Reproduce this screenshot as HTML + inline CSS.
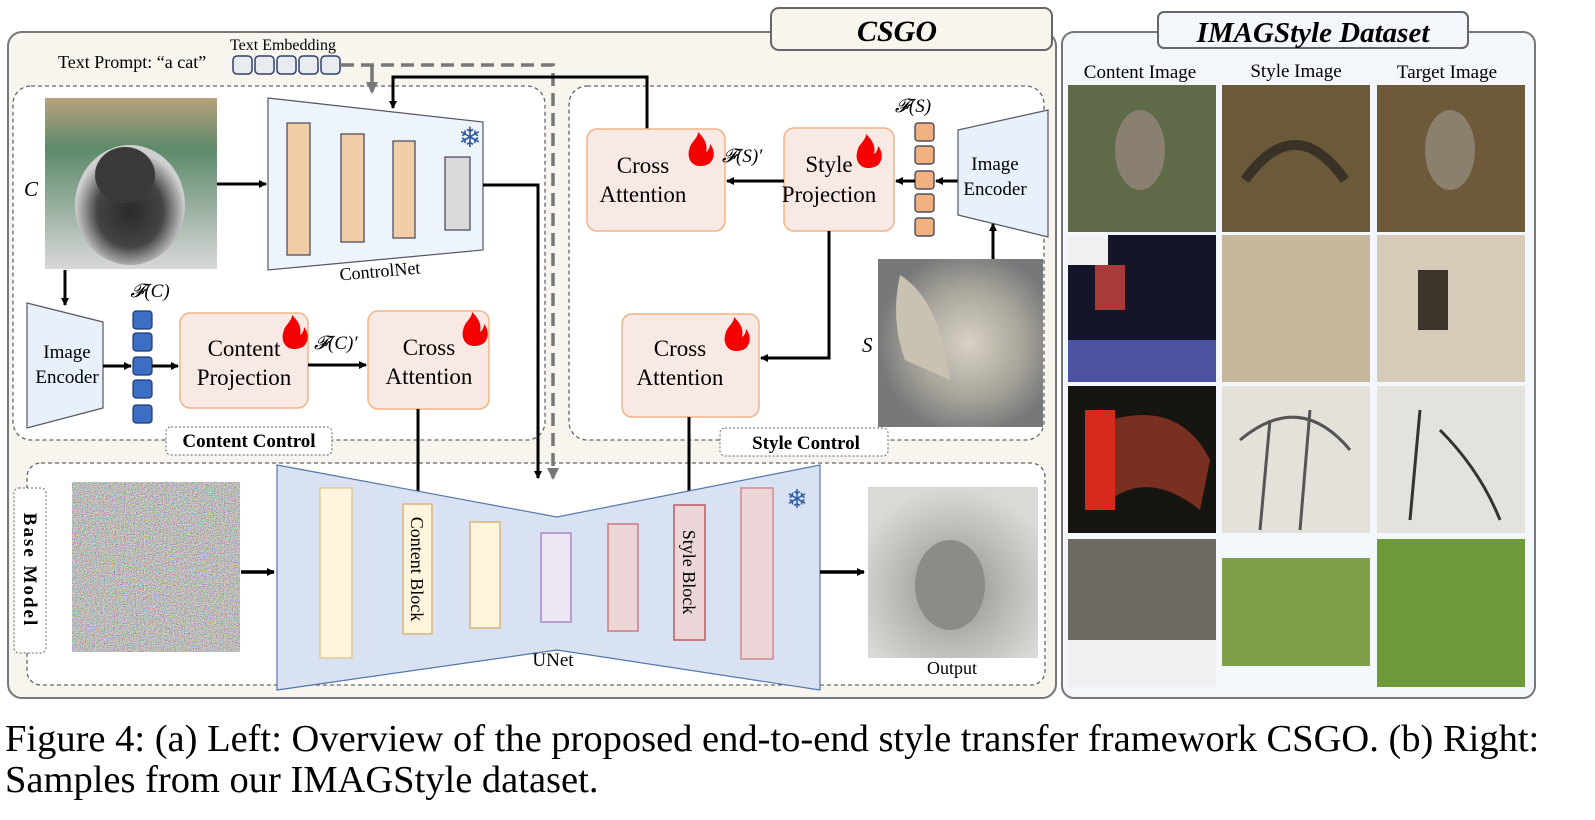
<!DOCTYPE html>
<html><head><meta charset="utf-8"><style>
html,body{margin:0;padding:0;background:#fff}
svg{display:block}
text{font-family:"Liberation Serif",serif}
</style></head><body>
<svg width="1595" height="820" viewBox="0 0 1595 820" xmlns="http://www.w3.org/2000/svg">
<defs>
<marker id="ah" markerWidth="8" markerHeight="8" refX="7" refY="4" orient="auto" markerUnits="userSpaceOnUse"><path d="M0,0 L8,4 L0,8 z" fill="#000"/></marker>
<marker id="ahg" markerWidth="12" markerHeight="12" refX="10" refY="6" orient="auto" markerUnits="userSpaceOnUse"><path d="M0,0 L12,6 L0,12 z" fill="#777"/></marker>
<filter id="noise" x="0" y="0" width="100%" height="100%"><feTurbulence type="fractalNoise" baseFrequency="0.9" numOctaves="2" seed="3"/><feColorMatrix type="matrix" values="1.6 0 0 0 -0.25  0 1.6 0 0 -0.25  0 0 1.6 0 -0.25  0 0 0 0 1"/></filter>
<radialGradient id="cat" cx="0.5" cy="0.55" r="0.5"><stop offset="0" stop-color="#2a2a2a"/><stop offset="0.6" stop-color="#444"/><stop offset="1" stop-color="#cfcfcf"/></radialGradient>
<linearGradient id="catbg" x1="0" y1="0" x2="0" y2="1"><stop offset="0" stop-color="#b8a27c"/><stop offset="0.3" stop-color="#5d8a6b"/><stop offset="1" stop-color="#d8d8d8"/></linearGradient>
<radialGradient id="angel" cx="0.55" cy="0.5" r="0.55"><stop offset="0" stop-color="#d8d2c4"/><stop offset="0.6" stop-color="#a8a49b"/><stop offset="1" stop-color="#77787a"/></radialGradient>
<radialGradient id="outc" cx="0.5" cy="0.6" r="0.6"><stop offset="0" stop-color="#8e8e8c"/><stop offset="0.5" stop-color="#b7b6b2"/><stop offset="1" stop-color="#dad9d6"/></radialGradient>
<path id="flame" d="M10,34 c-9,0 -14,-9 -10,-19 c2,-6 8,-9 8,-15 c6,6 10,12 8,20 c3,-2 4,-5 4,-8 c5,6 5,14 0,19 c-3,2 -6,3 -10,3z" fill="#f40000"/>
</defs>

<rect x="8" y="32" width="1048" height="666" rx="14" fill="#f7f5ee" stroke="#777" stroke-width="2"/>
<rect x="771" y="8" width="281" height="42" rx="8" fill="#f7f5ee" stroke="#666" stroke-width="2"/>
<text x="897" y="41" font-size="30" font-weight="bold" font-style="italic" text-anchor="middle">CSGO</text>

<rect x="1062" y="32" width="473" height="666" rx="12" fill="#f3f6fa" stroke="#777" stroke-width="2"/>
<rect x="1158" y="12" width="310" height="36" rx="6" fill="#f3f6fa" stroke="#666" stroke-width="2"/>
<text x="1313" y="42" font-size="29" font-weight="bold" font-style="italic" text-anchor="middle">IMAGStyle Dataset</text>
<text x="1140" y="78" font-size="19" text-anchor="middle">Content Image</text>
<text x="1296" y="77" font-size="19" text-anchor="middle">Style Image</text>
<text x="1447" y="78" font-size="19" text-anchor="middle">Target Image</text>
<rect x="1068" y="85" width="148" height="147" fill="#5f6a48"/>
<ellipse cx="1140" cy="150" rx="25" ry="40" fill="#8a8070"/>
<rect x="1222" y="85" width="148" height="147" fill="#6b5a3a"/>
<path d="M1245 180 Q1295 110 1345 180" stroke="#3a3226" stroke-width="10" fill="none"/>
<rect x="1377" y="85" width="148" height="147" fill="#6e5a3a"/>
<ellipse cx="1450" cy="150" rx="25" ry="40" fill="#8b7f6d"/>
<rect x="1068" y="235" width="148" height="147" fill="#15152a"/>
<rect x="1068" y="340" width="148" height="42" fill="#4b53a0"/>
<rect x="1095" y="265" width="30" height="45" fill="#a83a3a"/>
<rect x="1068" y="235" width="40" height="30" fill="#f0f0f0"/>
<rect x="1222" y="235" width="148" height="147" fill="#c7b79d"/>
<rect x="1377" y="235" width="148" height="147" fill="#d6cbb8"/>
<rect x="1418" y="270" width="30" height="60" fill="#3d342a"/>
<rect x="1068" y="386" width="148" height="147" fill="#171512"/>
<path d="M1110 420 Q1180 400 1210 460 L1200 510 Q1150 470 1110 500 z" fill="#7a3020"/>
<rect x="1085" y="410" width="30" height="100" fill="#d7291c"/>
<rect x="1222" y="386" width="148" height="147" fill="#e4e1da"/>
<path d="M1260 530 L1270 420 M1300 530 L1310 410 M1240 440 Q1300 390 1350 450" stroke="#555" stroke-width="3" fill="none"/>
<rect x="1377" y="386" width="148" height="147" fill="#e4e2dd"/>
<path d="M1420 410 L1410 520 M1440 430 Q1480 470 1500 520" stroke="#333" stroke-width="3" fill="none"/>
<rect x="1068" y="539" width="148" height="148" fill="#6d6a62"/>
<rect x="1068" y="640" width="148" height="47" fill="#eef0f2"/>
<rect x="1222" y="558" width="148" height="108" fill="#7fa048"/>
<rect x="1377" y="539" width="148" height="148" fill="#6f9a3a"/>

<rect x="13" y="86" width="532" height="354" rx="18" fill="#fff" stroke="#666" stroke-width="1.3" stroke-dasharray="4,3"/>
<rect x="569" y="86" width="475" height="354" rx="18" fill="#fff" stroke="#666" stroke-width="1.3" stroke-dasharray="4,3"/>
<rect x="27" y="463" width="1018" height="222" rx="14" fill="#fff" stroke="#666" stroke-width="1.3" stroke-dasharray="4,3"/>

<rect x="166" y="427" width="166" height="28" rx="5" fill="#fff" stroke="#666" stroke-dasharray="2,2"/>
<text x="249" y="447" font-size="19" font-weight="bold" text-anchor="middle">Content  Control</text>
<rect x="720" y="428" width="168" height="28" rx="5" fill="#fff" stroke="#666" stroke-dasharray="2,2"/>
<text x="806" y="449" font-size="19" font-weight="bold" text-anchor="middle">Style Control</text>
<rect x="14" y="488" width="32" height="165" rx="5" fill="#fff" stroke="#666" stroke-dasharray="2,2"/>
<text transform="translate(24,570) rotate(90)" font-size="19" font-weight="bold" text-anchor="middle" letter-spacing="2">Base Model</text>

<text x="58" y="68" font-size="18">Text Prompt: “a cat”</text>
<text x="230" y="50" font-size="16">Text Embedding</text>
<g fill="#e8ebf0" stroke="#2f3f6a" stroke-width="1.5">
<rect x="233" y="56" width="19" height="18" rx="4"/><rect x="255" y="56" width="19" height="18" rx="4"/><rect x="277" y="56" width="19" height="18" rx="4"/><rect x="299" y="56" width="19" height="18" rx="4"/><rect x="321" y="56" width="19" height="18" rx="4"/>
</g>
<path d="M341 65 H553 V478" stroke="#777" stroke-width="3.5" fill="none" stroke-dasharray="13,7" marker-end="url(#ahg)"/>
<path d="M372 65 V92" stroke="#777" stroke-width="3.5" fill="none" marker-end="url(#ahg)"/>

<rect x="45" y="98" width="172" height="171" fill="url(#catbg)"/>
<ellipse cx="130" cy="205" rx="55" ry="60" fill="url(#cat)"/>
<ellipse cx="125" cy="175" rx="30" ry="28" fill="#3a3a3a"/>
<text x="24" y="196" font-size="21" font-style="italic">C</text>

<polygon points="268,98 483,122 483,250 268,270" fill="#eef4fb" stroke="#556" stroke-width="1.2"/>
<g stroke="#445" stroke-width="1.2">
<rect x="287" y="123" width="23" height="132" fill="#f2cea8"/>
<rect x="341" y="134" width="23" height="108" fill="#f2cea8"/>
<rect x="393" y="141" width="22" height="97" fill="#f2cea8"/>
<rect x="445" y="157" width="25" height="73" fill="#d9d9d9"/>
</g>
<text x="470" y="147" font-size="28" fill="#2d5aa0" text-anchor="middle" font-family="DejaVu Sans">❄</text>
<text x="380" y="277" font-size="18" text-anchor="middle" transform="rotate(-5 380 272)">ControlNet</text>
<line x1="217" y1="184" x2="266" y2="184" stroke="#000" stroke-width="3" marker-end="url(#ah)"/>
<path d="M483 185 H538 V478" stroke="#000" stroke-width="3" fill="none" marker-end="url(#ah)"/>
<path d="M647 129 V77 H393 V108" stroke="#000" stroke-width="3" fill="none" marker-end="url(#ah)"/>

<line x1="65" y1="270" x2="65" y2="305" stroke="#000" stroke-width="3" marker-end="url(#ah)"/>
<polygon points="27,303 103,322 103,408 27,428" fill="#e8f0fa" stroke="#556" stroke-width="1.2"/>
<text x="67" y="358" font-size="19" text-anchor="middle">Image</text>
<text x="67" y="383" font-size="19" text-anchor="middle">Encoder</text>
<text x="150" y="297" font-size="19" font-style="italic" text-anchor="middle">𝓕(C)</text>
<g fill="#3c6ec4" stroke="#1f3a70" stroke-width="1.2">
<rect x="133" y="311" width="19" height="18" rx="3"/><rect x="133" y="333" width="19" height="18" rx="3"/><rect x="133" y="357" width="19" height="18" rx="3"/><rect x="133" y="380" width="19" height="18" rx="3"/><rect x="133" y="405" width="19" height="18" rx="3"/>
</g>
<line x1="103" y1="366" x2="131" y2="366" stroke="#000" stroke-width="3" marker-end="url(#ah)"/>
<line x1="152" y1="366" x2="178" y2="366" stroke="#000" stroke-width="3" marker-end="url(#ah)"/>
<rect x="180" y="313" width="128" height="95" rx="10" fill="#f8e9e4" stroke="#f0b486" stroke-width="1.5"/>
<text x="244" y="356" font-size="23" text-anchor="middle">Content</text>
<text x="244" y="385" font-size="23" text-anchor="middle">Projection</text>
<rect x="368" y="311" width="121" height="98" rx="10" fill="#f8e9e4" stroke="#f0b486" stroke-width="1.5"/>
<text x="429" y="355" font-size="23" text-anchor="middle">Cross</text>
<text x="429" y="384" font-size="23" text-anchor="middle">Attention</text>
<line x1="308" y1="365" x2="366" y2="365" stroke="#000" stroke-width="3" marker-end="url(#ah)"/>
<text x="314" y="349" font-size="19" font-style="italic">𝓕(C)′</text>
<line x1="418" y1="409" x2="418" y2="503" stroke="#000" stroke-width="3" marker-end="url(#ah)"/>

<rect x="587" y="129" width="138" height="102" rx="10" fill="#f8e9e4" stroke="#f0b486" stroke-width="1.5"/>
<text x="643" y="173" font-size="23" text-anchor="middle">Cross</text>
<text x="643" y="202" font-size="23" text-anchor="middle">Attention</text>
<rect x="784" y="128" width="110" height="103" rx="10" fill="#f8e9e4" stroke="#f0b486" stroke-width="1.5"/>
<text x="829" y="172" font-size="23" text-anchor="middle">Style</text>
<text x="829" y="202" font-size="23" text-anchor="middle">Projection</text>
<line x1="784" y1="181" x2="727" y2="181" stroke="#000" stroke-width="3" marker-end="url(#ah)"/>
<text x="722" y="162" font-size="19" font-style="italic">𝓕(S)′</text>
<text x="913" y="112" font-size="19" font-style="italic" text-anchor="middle">𝓕(S)</text>
<g fill="#f0b080" stroke="#2a3550" stroke-width="1.2">
<rect x="915" y="123" width="19" height="18" rx="3"/><rect x="915" y="146" width="19" height="18" rx="3"/><rect x="915" y="171" width="19" height="18" rx="3"/><rect x="915" y="194" width="19" height="18" rx="3"/><rect x="915" y="218" width="19" height="18" rx="3"/>
</g>
<line x1="958" y1="181" x2="936" y2="181" stroke="#000" stroke-width="3" marker-end="url(#ah)"/>
<line x1="915" y1="181" x2="896" y2="181" stroke="#000" stroke-width="3" marker-end="url(#ah)"/>
<polygon points="958,130 1048,110 1048,237 958,215" fill="#e8f0fa" stroke="#556" stroke-width="1.2"/>
<text x="995" y="170" font-size="19" text-anchor="middle">Image</text>
<text x="995" y="195" font-size="19" text-anchor="middle">Encoder</text>
<rect x="878" y="259" width="165" height="168" fill="url(#angel)"/>
<path d="M900 275 Q940 300 950 380 L905 360 Q890 320 900 275z" fill="#c9c2b2"/>
<text x="862" y="352" font-size="21" font-style="italic">S</text>
<line x1="993" y1="259" x2="993" y2="224" stroke="#000" stroke-width="3" marker-end="url(#ah)"/>
<path d="M829 231 V358 H761" stroke="#000" stroke-width="3" fill="none" marker-end="url(#ah)"/>
<rect x="622" y="314" width="137" height="103" rx="10" fill="#f8e9e4" stroke="#f0b486" stroke-width="1.5"/>
<text x="680" y="356" font-size="23" text-anchor="middle">Cross</text>
<text x="680" y="385" font-size="23" text-anchor="middle">Attention</text>
<line x1="689" y1="417" x2="689" y2="503" stroke="#000" stroke-width="3" marker-end="url(#ah)"/>

<use href="#flame" x="284" y="315"/>
<use href="#flame" x="464" y="312"/>
<use href="#flame" x="690" y="132"/>
<use href="#flame" x="858" y="134"/>
<use href="#flame" x="726" y="317"/>

<rect x="72" y="482" width="168" height="170" fill="#8a8276"/>
<rect x="72" y="482" width="168" height="170" filter="url(#noise)" opacity="0.9"/>
<line x1="241" y1="572" x2="274" y2="572" stroke="#000" stroke-width="3.5" marker-end="url(#ah)"/>
<polygon points="277,465 557,517 820,465 820,690 557,650 277,690" fill="#d8e2f2" stroke="#5577aa" stroke-width="1.2"/>
<rect x="320" y="488" width="32" height="170" fill="#fff4dc" stroke="#e0c89a" stroke-width="1.5"/>
<rect x="403" y="504" width="29" height="130" fill="#fff4dc" stroke="#d9b47a" stroke-width="1.5"/>
<text transform="translate(411,569) rotate(90)" font-size="18" text-anchor="middle">Content Block</text>
<rect x="470" y="522" width="30" height="106" fill="#fff4dc" stroke="#d9b47a" stroke-width="1.5"/>
<rect x="541" y="533" width="30" height="89" fill="#efe6f4" stroke="#a88ac0" stroke-width="1.5"/>
<rect x="608" y="524" width="30" height="107" fill="#ecd6d8" stroke="#c87a80" stroke-width="1.5"/>
<rect x="674" y="505" width="31" height="135" fill="#ecd6d8" stroke="#c05a63" stroke-width="1.5"/>
<text transform="translate(683,572) rotate(90)" font-size="18" text-anchor="middle">Style Block</text>
<rect x="741" y="488" width="32" height="171" fill="#ecd6d8" stroke="#d08a90" stroke-width="1.5"/>
<text x="797" y="508" font-size="26" fill="#2d5aa0" text-anchor="middle" font-family="DejaVu Sans">❄</text>
<text x="553" y="666" font-size="19" text-anchor="middle">UNet</text>
<line x1="820" y1="572" x2="864" y2="572" stroke="#000" stroke-width="3.5" marker-end="url(#ah)"/>
<rect x="868" y="487" width="170" height="171" fill="url(#outc)"/>
<ellipse cx="950" cy="585" rx="35" ry="45" fill="#8d8b86"/>
<text x="952" y="674" font-size="18" text-anchor="middle">Output</text>

<text x="5" y="751" font-size="38.5">Figure 4: (a) Left: Overview of the proposed end-to-end style transfer framework CSGO. (b) Right:</text>
<text x="5" y="792" font-size="38.5">Samples from our IMAGStyle dataset.</text>
</svg>
</body></html>
